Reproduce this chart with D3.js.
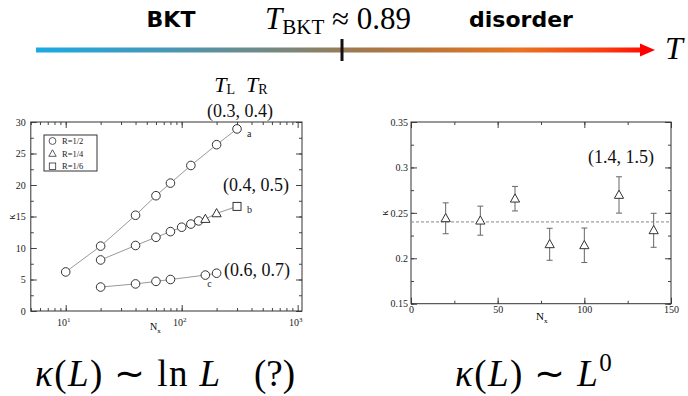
<!DOCTYPE html>
<html><head><meta charset="utf-8">
<script src="https://cdn.jsdelivr.net/npm/d3@7"></script>
<style>
html,body{margin:0;padding:0;background:#fff;}
svg{display:block;}
</style></head>
<body>
<svg id="c" width="688" height="396"></svg>
<script>
// ---------- data ----------
const aN = [10, 20, 40, 60, 80, 120, 200, 300];
const aK = [6.2, 10.3, 15.2, 18.3, 20.3, 23.1, 26.4, 28.9];
const bN = [20, 40, 60, 80, 100, 120, 140, 160, 200, 300];
const bK = [8.1, 10.4, 11.7, 12.6, 13.3, 13.8, 14.3, 14.6, 15.5, 16.6];
const bR = ["1/2","1/2","1/2","1/2","1/2","1/2","1/2","1/4","1/4","1/6"];
const cN = [20, 40, 60, 80, 160, 200];
const cK = [3.8, 4.3, 4.7, 5.0, 5.7, 6.0];
const legendLabels = ["R=1/2", "R=1/4", "R=1/6"];
const leftYTicks = [0, 5, 10, 15, 20, 25, 30];
const leftXTicks = [10, 100, 1000];

const rN = [20, 40, 60, 80, 100, 120, 140];
const rK = [0.244, 0.2414, 0.2656, 0.2154, 0.2143, 0.2697, 0.2308];
const rErr = [0.017, 0.016, 0.0135, 0.0176, 0.019, 0.020, 0.0187];
const rMean = 0.24;
const rightXTicks = [0, 50, 100, 150];
const rightYTicks = [0.15, 0.2, 0.25, 0.3, 0.35];

const svg = d3.select("#c");
const serif = 'Liberation Serif';
const bold = 'DejaVu Sans';

// ---------- top arrow ----------
const defs = svg.append("defs");
const grad = defs.append("linearGradient").attr("id","tg")
  .attr("gradientUnits","userSpaceOnUse").attr("x1",36).attr("x2",655).attr("y1",0).attr("y2",0);
[[0,"#1aaae3"],[0.22,"#4a96b4"],[0.42,"#7f8576"],[0.52,"#a0784e"],[0.62,"#b9763a"],[0.78,"#ea7420"],[0.92,"#fa3a10"],[1,"#ff0000"]]
  .forEach(([o,c]) => grad.append("stop").attr("offset",o).attr("stop-color",c));
svg.append("rect").attr("x",36).attr("y",47.5).attr("width",606).attr("height",5).attr("fill","url(#tg)");
svg.append("path").attr("d","M640,43.5 L655,50 L640,56.5 Z").attr("fill","#ff0000");
svg.append("rect").attr("x",340.5).attr("y",39).attr("width",3).attr("height",22).attr("fill","#111");

svg.append("text").attr("x",171).attr("y",27).attr("text-anchor","middle")
  .attr("font-family",bold).attr("font-weight","bold")
  .attr("font-size",22).text("BKT");
svg.append("text").attr("x",521).attr("y",27).attr("text-anchor","middle")
  .attr("font-family",bold).attr("font-weight","bold")
  .attr("font-size",22).text("disorder");
const tb = svg.append("text").attr("x",338).attr("y",29).attr("text-anchor","middle")
  .attr("font-family",serif).attr("font-size",31);
tb.append("tspan").attr("font-style","italic").text("T");
tb.append("tspan").attr("font-size",21).attr("dy",5).text("BKT");
tb.append("tspan").attr("dy",-5).text(" ≈ 0.89");
svg.append("text").attr("x",665).attr("y",59).attr("font-family",serif).attr("font-style","italic")
  .attr("font-size",32).text("T");

// ---------- helpers ----------
function marker(g, type, x, y) {
  if (type === "1/2") g.append("circle").attr("cx",x).attr("cy",y).attr("r",4.3)
      .attr("fill","#fff").attr("stroke","#333").attr("stroke-width",1);
  else if (type === "1/4") g.append("path")
      .attr("d",`M${x},${y-4.8} L${x+4.6},${y+3.4} L${x-4.6},${y+3.4} Z`)
      .attr("fill","#fff").attr("stroke","#333").attr("stroke-width",1);
  else g.append("rect").attr("x",x-4).attr("y",y-4).attr("width",8).attr("height",8)
      .attr("fill","#fff").attr("stroke","#333").attr("stroke-width",1);
}
function styleAxis(sel) {
  sel.select(".domain").remove();
  sel.selectAll(".tick line").attr("stroke","#444");
  sel.selectAll(".tick text").attr("font-family",serif).attr("font-size",10).attr("fill","#222");
}

// ---------- left chart ----------
const L = {x0:30.8, x1:302, y0:311, y1:122};
const xL = d3.scaleLog().domain([5,1090]).range([L.x0,L.x1]);
const yL = d3.scaleLinear().domain([0,30]).range([L.y0,L.y1]);
const gl = svg.append("g");
const minorLog = [];
for (let d = 1; d <= 100; d *= 10) for (let m = 1; m < 10; m++) { const v = d*m; if (v >= 5 && v <= 1000) minorLog.push(v); }
const minorY = d3.range(0, 30.01, 2.5);

gl.append("g").attr("transform",`translate(0,${L.y0})`).call(d3.axisBottom(xL).tickValues(minorLog).tickSize(-3).tickFormat("")).call(styleAxis);
gl.append("g").attr("transform",`translate(0,${L.y1})`).call(d3.axisTop(xL).tickValues(minorLog).tickSize(-3).tickFormat("")).call(styleAxis);
gl.append("g").attr("transform",`translate(0,${L.y0})`).call(d3.axisBottom(xL).tickValues(leftXTicks).tickSize(-6).tickFormat("")).call(styleAxis);
gl.append("g").attr("transform",`translate(0,${L.y1})`).call(d3.axisTop(xL).tickValues(leftXTicks).tickSize(-6).tickFormat("")).call(styleAxis);
gl.append("g").attr("transform",`translate(${L.x0},0)`).call(d3.axisLeft(yL).tickValues(minorY).tickSize(-3).tickFormat("")).call(styleAxis);
gl.append("g").attr("transform",`translate(${L.x1},0)`).call(d3.axisRight(yL).tickValues(minorY).tickSize(-3).tickFormat("")).call(styleAxis);
gl.append("g").attr("transform",`translate(${L.x0},0)`).call(d3.axisLeft(yL).tickValues(leftYTicks).tickSize(-6).tickPadding(5).tickFormat(d3.format("d"))).call(styleAxis);
gl.append("g").attr("transform",`translate(${L.x1},0)`).call(d3.axisRight(yL).tickValues(leftYTicks).tickSize(-6).tickFormat("")).call(styleAxis);
leftXTicks.forEach(v => {
  const t = gl.append("text").attr("x",xL(v)-2).attr("y",L.y0+15).attr("text-anchor","middle")
    .attr("font-family",serif).attr("font-size",10).attr("fill","#222");
  t.append("tspan").text("10");
  t.append("tspan").attr("font-size",7).attr("dy",-4).text(Math.round(Math.log10(v)));
});
gl.append("rect").attr("x",L.x0).attr("y",L.y1).attr("width",L.x1-L.x0).attr("height",L.y0-L.y1)
  .attr("fill","none").attr("stroke","#333").attr("stroke-width",1);

const line = d3.line();
const lineL = (N,K) => line(N.map((n,i)=>[xL(n),yL(K[i])]));
[[aN,aK],[bN,bK],[cN,cK]].forEach(([N,K]) => gl.append("path").attr("d",lineL(N,K))
  .attr("fill","none").attr("stroke","#999").attr("stroke-width",1));
aN.forEach((n,i)=>marker(gl,"1/2",xL(n),yL(aK[i])));
bN.forEach((n,i)=>marker(gl,bR[i],xL(n),yL(bK[i])));
cN.forEach((n,i)=>marker(gl,"1/2",xL(n),yL(cK[i])));

const small = (x,y,t) => gl.append("text").attr("x",x).attr("y",y).attr("font-family",serif).attr("font-size",10).attr("fill","#222").text(t);
small(xL(300)+10, yL(28.9)+8, "a");
small(xL(300)+10, yL(16.6)+7, "b");
small(xL(160)+2, yL(5.7)+12, "c");

// legend
gl.append("rect").attr("x",44).attr("y",135).attr("width",53).attr("height",36).attr("fill","#fff").attr("stroke","#333");
legendLabels.forEach((lab,i) => {
  const y = 141 + i*12.6;
  const g = gl.append("g").attr("transform",`translate(52.5,${y}) scale(0.8) translate(-52.5,${-y})`);
  marker(g, ["1/2","1/4","1/6"][i], 52.5, y);
  gl.append("text").attr("x",62).attr("y",y+3).attr("font-family",serif).attr("font-size",8.5).attr("fill","#222").text(lab);
});

// axis labels
gl.append("text").attr("transform",`translate(15,217) rotate(-90)`).attr("text-anchor","middle")
  .attr("font-family",serif).attr("font-size",10).text("κ");
const nxl = gl.append("text").attr("x",150).attr("y",330).attr("font-family",serif).attr("font-size",10);
nxl.append("tspan").text("N");
nxl.append("tspan").attr("font-size",7).attr("dy",3).text("x");

// annotations
const big = (x,y,t,anchor) => svg.append("text").attr("x",x).attr("y",y).attr("text-anchor",anchor||"start")
  .attr("font-family",serif).attr("font-size",18).attr("fill","#111").text(t);
const tlr = svg.append("text").attr("x",241).attr("y",92).attr("text-anchor","middle").attr("font-family",serif).attr("font-size",22);
tlr.append("tspan").attr("font-style","italic").text("T");
tlr.append("tspan").attr("font-size",14).attr("dy",2).text("L");
tlr.append("tspan").attr("dy",-2).text("\u2002");
tlr.append("tspan").attr("font-style","italic").text("T");
tlr.append("tspan").attr("font-size",14).attr("dy",2).text("R");
big(240,117,"(0.3, 0.4)","middle");
big(256,191,"(0.4, 0.5)","middle");
big(257,276,"(0.6, 0.7)","middle");

// ---------- right chart ----------
const R = {x0:411, x1:671, y0:303.7, y1:122};
const xR = d3.scaleLinear().domain([0,150]).range([R.x0,R.x1]);
const yR = d3.scaleLinear().domain([0.15,0.35]).range([R.y0,R.y1]);
const gr = svg.append("g");
const minorXR = d3.range(0,150.1,25), minorYR = d3.range(0.15,0.351,0.025);
gr.append("g").attr("transform",`translate(0,${R.y0})`).call(d3.axisBottom(xR).tickValues(minorXR).tickSize(-3).tickFormat("")).call(styleAxis);
gr.append("g").attr("transform",`translate(0,${R.y1})`).call(d3.axisTop(xR).tickValues(minorXR).tickSize(-3).tickFormat("")).call(styleAxis);
gr.append("g").attr("transform",`translate(0,${R.y0})`).call(d3.axisBottom(xR).tickValues(rightXTicks).tickSize(-6).tickPadding(2).tickFormat(d3.format("d"))).call(styleAxis);
gr.append("g").attr("transform",`translate(0,${R.y1})`).call(d3.axisTop(xR).tickValues(rightXTicks).tickSize(-6).tickFormat("")).call(styleAxis);
gr.append("g").attr("transform",`translate(${R.x0},0)`).call(d3.axisLeft(yR).tickValues(minorYR).tickSize(-3).tickFormat("")).call(styleAxis);
gr.append("g").attr("transform",`translate(${R.x1},0)`).call(d3.axisRight(yR).tickValues(minorYR).tickSize(-3).tickFormat("")).call(styleAxis);
gr.append("g").attr("transform",`translate(${R.x0},0)`).call(d3.axisLeft(yR).tickValues(rightYTicks).tickSize(-6).tickPadding(3).tickFormat(d => d3.format(".2~f")(d))).call(styleAxis);
gr.append("g").attr("transform",`translate(${R.x1},0)`).call(d3.axisRight(yR).tickValues(rightYTicks).tickSize(-6).tickFormat("")).call(styleAxis);
gr.append("rect").attr("x",R.x0).attr("y",R.y1).attr("width",R.x1-R.x0).attr("height",R.y0-R.y1)
  .attr("fill","none").attr("stroke","#333").attr("stroke-width",1);
gr.append("line").attr("x1",R.x0).attr("x2",R.x1).attr("y1",yR(rMean)).attr("y2",yR(rMean))
  .attr("stroke","#888").attr("stroke-width",1).attr("stroke-dasharray","3,2");
rN.forEach((n,i) => {
  const x = xR(n), yt = yR(rK[i]+rErr[i]), yb = yR(rK[i]-rErr[i]);
  gr.append("path").attr("d",`M${x},${yt}V${yb}M${x-3},${yt}H${x+3}M${x-3},${yb}H${x+3}`)
    .attr("stroke","#666").attr("stroke-width",1).attr("fill","none");
  marker(gr,"1/4",x,yR(rK[i]));
});
gr.append("text").attr("transform",`translate(388,213) rotate(-90)`).attr("text-anchor","middle")
  .attr("font-family",serif).attr("font-size",10).text("κ");
const nxr = gr.append("text").attr("x",536).attr("y",320).attr("font-family",serif).attr("font-size",11);
nxr.append("tspan").text("N");
nxr.append("tspan").attr("font-size",7).attr("dy",3).text("x");
big(621,163,"(1.4, 1.5)","middle");

// ---------- bottom formulas ----------
const fs = 37;
const f1 = svg.append("text").attr("x",35).attr("y",386).attr("font-family",serif).attr("font-size",fs).attr("letter-spacing",1.4);
f1.append("tspan").attr("font-style","italic").text("κ");
f1.append("tspan").text("(");
f1.append("tspan").attr("font-style","italic").text("L");
f1.append("tspan").text(") ∼ ln ");
f1.append("tspan").attr("font-style","italic").text("L");
svg.append("text").attr("x",295).attr("y",386).attr("text-anchor","end").attr("font-family",serif).attr("font-size",fs).text("(?)");
const f2 = svg.append("text").attr("x",455).attr("y",386).attr("font-family",serif).attr("font-size",fs).attr("letter-spacing",1.4);
f2.append("tspan").attr("font-style","italic").text("κ");
f2.append("tspan").text("(");
f2.append("tspan").attr("font-style","italic").text("L");
f2.append("tspan").text(") ∼ ");
f2.append("tspan").attr("font-style","italic").text("L");
f2.append("tspan").attr("font-size",25).attr("dy",-15).text("0");
</script>
</body></html>
